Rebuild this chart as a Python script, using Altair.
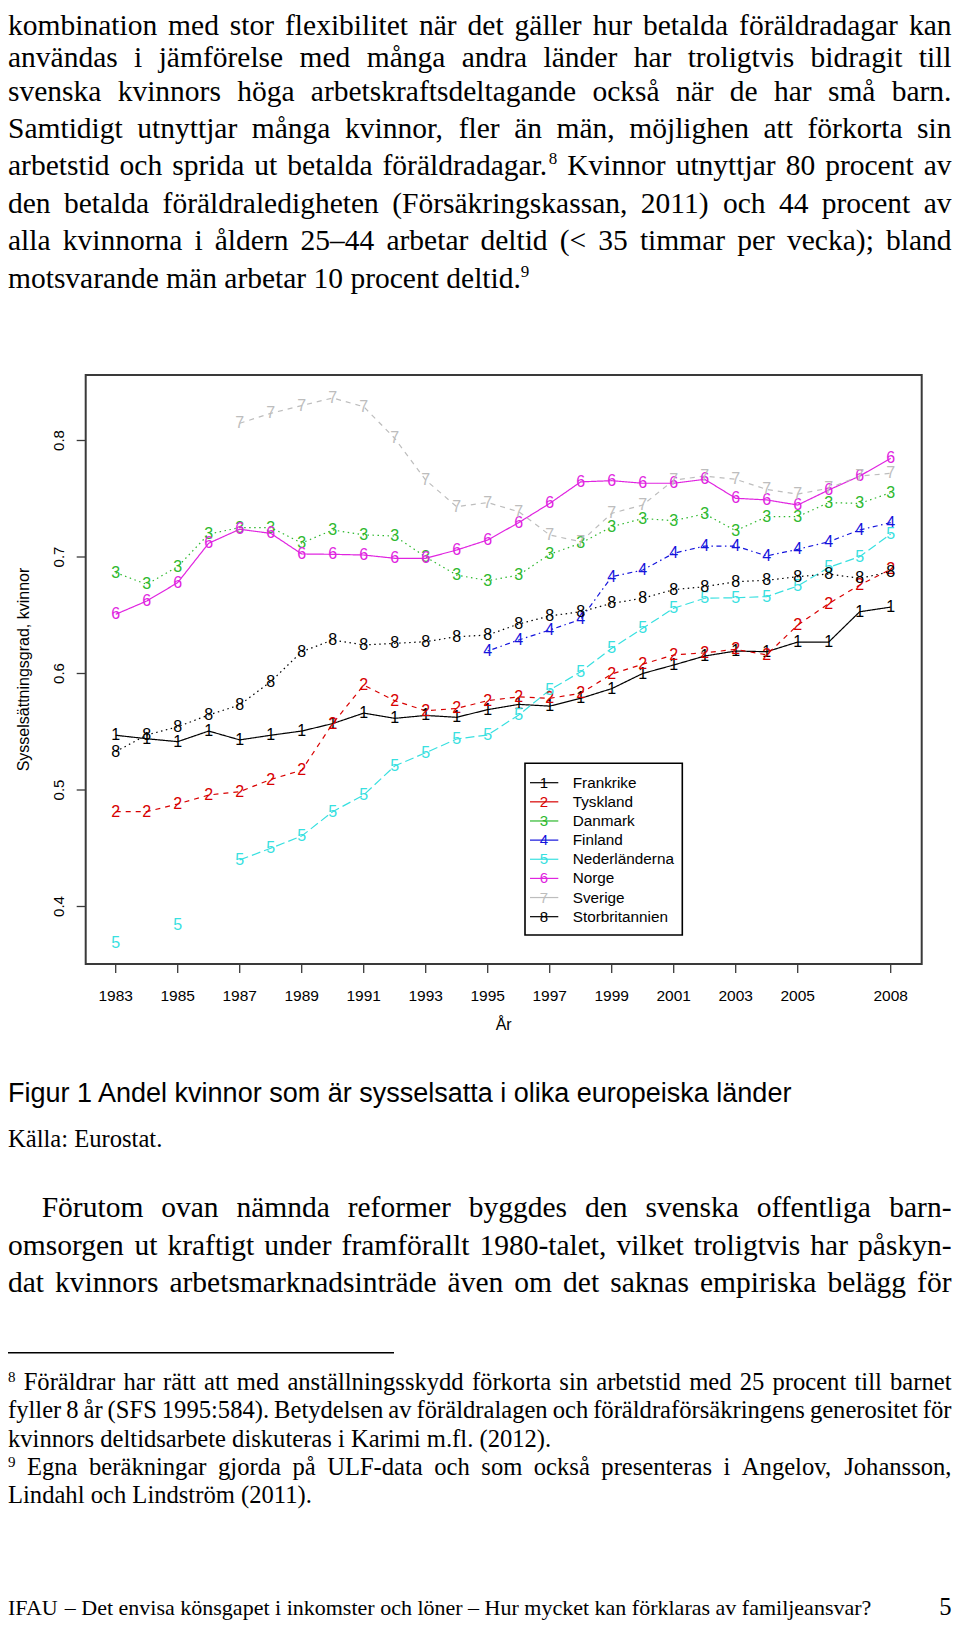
import altair as alt
import pandas as pd

# ---------------- chart data ----------------
years = list(range(1983, 2009))
countries = ["Frankrike", "Tyskland", "Danmark", "Finland", "Nederländerna",
             "Norge", "Sverige", "Storbritannien"]
markers = ["1", "2", "3", "4", "5", "6", "7", "8"]

frankrike = [0.547, 0.544, 0.5415, 0.5506, 0.543, 0.547, 0.5506, 0.557, 0.566, 0.5615,
             0.564, 0.5624, 0.569, 0.5735, 0.572, 0.5787, 0.587, 0.600, 0.6073, 0.615,
             0.6193, 0.6187, 0.627, 0.627, 0.653, 0.657]
tyskland = [0.4814, 0.4814, 0.488, 0.4957, 0.4986, 0.509, 0.517, 0.557, 0.590, 0.5767,
            0.568, 0.570, 0.5767, 0.580, 0.5787, 0.583, 0.5995, 0.608, 0.6159, 0.6178,
            0.6207, 0.616, 0.6416, 0.660, 0.676, 0.6894]
danmark = [0.6866, 0.6765, 0.6917, 0.7197, 0.7252, 0.7253, 0.7120, 0.7232, 0.719, 0.718,
           0.700, 0.6845, 0.6797, 0.6845, 0.7023, 0.7118, 0.726, 0.733, 0.7312, 0.737,
           0.7226, 0.7346, 0.7346, 0.7467, 0.746, 0.7552]
finland = [None] * 12 + [0.6193, 0.6288, 0.6373, 0.6465, 0.6831, 0.6888, 0.7032, 0.7094,
                         0.7094, 0.7009, 0.7066, 0.7131, 0.7232, 0.7295]
nederlanderna = [0.369, None, 0.384, None, 0.440, 0.450, 0.4605, 0.4814, 0.4957, 0.5206,
                 0.532, 0.5438, 0.5472, 0.5644, 0.5858, 0.6015, 0.6216, 0.6388, 0.656,
                 0.6646, 0.665, 0.666, 0.6751, 0.6911, 0.7003, 0.7197]
norge = [0.6508, 0.6622, 0.678, 0.7118, 0.7238, 0.7203, 0.7026, 0.7023, 0.7017, 0.6989,
         0.6989, 0.706, 0.7146, 0.7295, 0.746, 0.7645, 0.7655, 0.7633, 0.7633, 0.7667,
         0.7504, 0.749, 0.7446, 0.7575, 0.7695, 0.7847]
sverige = [None] * 4 + [0.8148, 0.8233, 0.830, 0.8365, 0.829, 0.8019, 0.766, 0.7432,
                        0.7467, 0.7389, 0.7189, 0.7131, 0.7375, 0.7446, 0.766, 0.7695,
                        0.7667, 0.758, 0.754, 0.759, 0.7695, 0.7718]
storbritannien = [0.5329, 0.5472, 0.5543, 0.5644, 0.573, 0.593, 0.6187, 0.6288, 0.6245,
                  0.6259, 0.6273, 0.6316, 0.633, 0.6425, 0.6494, 0.653, 0.6602, 0.6646,
                  0.672, 0.6745, 0.6788, 0.680, 0.6831, 0.6854, 0.6817, 0.6874]
series = [frankrike, tyskland, danmark, finland, nederlanderna, norge, sverige, storbritannien]

x_ticks = [1983, 1985, 1987, 1989, 1991, 1993, 1995, 1997, 1999, 2001, 2003, 2005, 2008]
y_ticks = [0.4, 0.5, 0.6, 0.7, 0.8]
y_tick_labels = ["0.4", "0.5", "0.6", "0.7", "0.8"]
x_title = "År"
y_title = "Sysselsättningsgrad, kvinnor"

# ---------------- page text ----------------
top_lines = [
    "kombination med stor flexibilitet när det gäller hur betalda föräldradagar kan",
    "användas i jämförelse med många andra länder har troligtvis bidragit till",
    "svenska kvinnors höga arbetskraftsdeltagande också när de har små barn.",
    "Samtidigt utnyttjar många kvinnor, fler än män, möjlighen att förkorta sin",
    "arbetstid och sprida ut betalda föräldradagar.^8 Kvinnor utnyttjar 80 procent av",
    "den betalda föräldraledigheten (Försäkringskassan, 2011) och 44 procent av",
    "alla kvinnorna i åldern 25–44 arbetar deltid (< 35 timmar per vecka); bland",
    "motsvarande män arbetar 10 procent deltid.^9",
]
caption = "Figur 1 Andel kvinnor som är sysselsatta i olika europeiska länder"
source = "Källa: Eurostat."
para2_lines = [
    "Förutom ovan nämnda reformer byggdes den svenska offentliga barn-",
    "omsorgen ut kraftigt under framförallt 1980-talet, vilket troligtvis har påskyn-",
    "dat kvinnors arbetsmarknadsinträde även om det saknas empiriska belägg för",
]
footnote_lines = [
    "^8 Föräldrar har rätt att med anställningsskydd förkorta sin arbetstid med 25 procent till barnet",
    "fyller 8 år (SFS 1995:584). Betydelsen av föräldralagen och föräldraförsäkringens generositet för",
    "kvinnors deltidsarbete diskuteras i Karimi m.fl. (2012).",
    "^9 Egna beräkningar gjorda på ULF-data och som också presenteras i Angelov, Johansson,",
    "Lindahl och Lindström (2011).",
]
footer_text = "IFAU – Det envisa könsgapet i inkomster och löner – Hur mycket kan förklaras av familjeansvar?"
page_number = "5"

# ---------------- styles / layout ----------------
colors = ["#000000", "#D80000", "#2DB82D", "#1414DC", "#38E0E0", "#E024E0", "#BDBDBD", "#000000"]
dashes = [[1, 0], [5, 5], [1.5, 3.5], [1.5, 3.5, 5, 3.5], [9, 4], [1, 0], [5, 5], [1.5, 3.5]]
W, H = 944, 1612
SANS = "Liberation Sans"
SERIF = "Liberation Serif"

_upper = dict(zip("ABCDEFGHIJKLMNOPQRSTUVWXYZ",
                  [722, 667, 667, 722, 611, 556, 722, 722, 333, 389, 722, 611, 889, 722, 722,
                   556, 722, 667, 556, 611, 722, 722, 944, 722, 722, 611]))
_lower = dict(zip("abcdefghijklmnopqrstuvwxyz",
                  [444, 500, 444, 500, 444, 333, 500, 500, 278, 278, 500, 278, 778, 500, 500,
                   500, 500, 333, 389, 278, 500, 500, 722, 500, 500, 444]))
TIMES = {" ": 250, "!": 333, "(": 333, ")": 333, ",": 250, "-": 333, ".": 250, "/": 278,
         ":": 278, ";": 278, "<": 564, "?": 444, "–": 500, "ä": 444, "å": 444, "ö": 500,
         "é": 444, "Ä": 722, "Å": 722, "Ö": 722}
TIMES.update(_upper)
TIMES.update(_lower)
for d in "0123456789":
    TIMES[d] = 500


def tw(s, size):
    return sum(TIMES.get(c, 500) for c in s) / 1000.0 * size


def layout(text, left, right, y, size, justify, sup_size, sup_rise):
    parts = []
    for tok in text.split(" "):
        base, sup = (tok.split("^") + [""])[:2] if "^" in tok else (tok, "")
        parts.append((base, sup, tw(base, size) + tw(sup, sup_size)))
    total = sum(p[2] for p in parts)
    if justify and len(parts) > 1:
        gap = (right - left - total) / (len(parts) - 1)
    else:
        gap = tw(" ", size)
    out, x = [], left
    for base, sup, w in parts:
        if base:
            out.append({"t": base, "x": x, "y": y, "s": size})
        if sup:
            out.append({"t": sup, "x": x + tw(base, size), "y": y - sup_rise, "s": sup_size})
        x += w + gap
    return out


R_EDGE = 943.5
BODY, FOOT, FOOTER = 29.5, 24.6, 22.0
FOOTER_Y = 1606.5
words = []
top_base = [26.5, 58.5, 93.0, 129.5, 166.7, 204.55, 242.4, 280.25]
for i, line in enumerate(top_lines):
    words += layout(line, 0, R_EDGE, top_base[i], BODY, i < len(top_lines) - 1, 17, 11)
for i, line in enumerate(para2_lines):
    words += layout(line, 33.7 if i == 0 else 0, R_EDGE, 1208.7 + 37.85 * i, BODY, True, 17, 11)
foot_just = [True, True, False, True, False]
for i, line in enumerate(footnote_lines):
    words += layout(line, 0, R_EDGE, 1382 + 28.3 * i, FOOT, foot_just[i], 15, 8.3)
words += [{"t": source, "x": 0, "y": 1139.3, "s": FOOT}]
words += layout(footer_text, 0, R_EDGE, FOOTER_Y, FOOTER, False, 15, 8)
words_df = pd.DataFrame(words)

# ---------------- chart tables ----------------
rows = []
for k, (name, vals) in enumerate(zip(countries, series)):
    seg = 0
    for yr, v in zip(years, vals):
        if v is None:
            seg += 1
            continue
        rows.append({"year": yr, "value": v, "country": name, "digit": markers[k],
                     "seg": f"{name}-{seg}"})
df = pd.DataFrame(rows)

xs = alt.Scale(domain=[1982, 2009], range=[76.7, 913.7], nice=False, zero=False)
ys = alt.Scale(domain=[0.35, 0.86], range=[956.75, 362.6], nice=False, zero=False)
cs = alt.Scale(domain=countries, range=colors)
ds = alt.Scale(domain=countries, range=dashes)

X = alt.X("year:Q", scale=xs, axis=None)
Y = alt.Y("value:Q", scale=ys, axis=None)
C = alt.Color("country:N", scale=cs, legend=None)

lines = alt.Chart(df).mark_line(strokeWidth=1.2).encode(
    x=X, y=Y, color=C,
    strokeDash=alt.StrokeDash("country:N", scale=ds, legend=None),
    detail="seg:N", order="year:Q")
points = alt.Chart(df).mark_text(font=SANS, fontSize=16, baseline="middle", align="center").encode(
    x=X, y=Y, color=C, text="digit:N")

box = alt.Chart(pd.DataFrame({"a": [0]})).mark_rect(filled=False, stroke="#3a3a3a", strokeWidth=2).encode(
    x=alt.value(77.7), x2=alt.value(913.7), y=alt.value(367), y2=alt.value(956))

xt = pd.DataFrame({"year": x_ticks, "lab": [str(v) for v in x_ticks]})
yt = pd.DataFrame({"value": y_ticks, "lab": y_tick_labels})
x_tick_rules = alt.Chart(xt).mark_rule(color="#3a3a3a", strokeWidth=1.3).encode(
    x=X, y=alt.value(956), y2=alt.value(965))
x_tick_text = alt.Chart(xt).mark_text(font=SANS, fontSize=15.5, baseline="alphabetic", align="center").encode(
    x=X, y=alt.value(992.7), text="lab:N")
y_tick_rules = alt.Chart(yt).mark_rule(color="#3a3a3a", strokeWidth=1.3).encode(
    y=Y, x=alt.value(68.7), x2=alt.value(77.7))
y_tick_text = alt.Chart(yt).mark_text(font=SANS, fontSize=15, baseline="alphabetic", align="center", angle=270).encode(
    y=Y, x=alt.value(56), text="lab:N")
titles = alt.Chart(pd.DataFrame({"t": [x_title]})).mark_text(
    font=SANS, fontSize=16, baseline="alphabetic", align="center").encode(
    x=alt.value(495.7), y=alt.value(1022), text="t:N")
ytitle = alt.Chart(pd.DataFrame({"t": [y_title]})).mark_text(
    font=SANS, fontSize=16, baseline="alphabetic", align="center", angle=270).encode(
    x=alt.value(21.3), y=alt.value(661.5), text="t:N")

# legend
leg = pd.DataFrame({"country": countries, "digit": markers,
                    "ly": [774.7 + 19.14 * i for i in range(len(countries))]})
LY = alt.Y("ly:Q", scale=None)
leg_box = alt.Chart(pd.DataFrame({"a": [0]})).mark_rect(fill="white", stroke="black", strokeWidth=1.6).encode(
    x=alt.value(517), x2=alt.value(674.3), y=alt.value(755.3), y2=alt.value(927))
leg_lines = alt.Chart(leg).mark_rule(strokeWidth=1.2).encode(
    x=alt.value(522), x2=alt.value(550.3), y=LY, color=C)
leg_digits = alt.Chart(leg).mark_text(font=SANS, fontSize=15, baseline="middle", align="center").encode(
    x=alt.value(536), y=LY, color=C, text="digit:N")
leg_labels = alt.Chart(leg).mark_text(font=SANS, fontSize=15.3, baseline="middle", align="left", color="black").encode(
    x=alt.value(564.7), y=LY, text="country:N")

# page text
body = alt.Chart(words_df).mark_text(font=SERIF, baseline="alphabetic", align="left", color="black").encode(
    x=alt.X("x:Q", scale=None), y=alt.Y("y:Q", scale=None), text="t:N", size=alt.Size("s:Q", scale=None))
cap = alt.Chart(pd.DataFrame({"t": [caption]})).mark_text(
    font=SANS, fontSize=27, baseline="alphabetic", align="left", color="black").encode(
    x=alt.value(0), y=alt.value(1093.7), text="t:N")
pnum = alt.Chart(pd.DataFrame({"t": [page_number]})).mark_text(
    font=SERIF, fontSize=FOOT, baseline="alphabetic", align="right", color="black").encode(
    x=alt.value(R_EDGE), y=alt.value(FOOTER_Y), text="t:N")
sep = alt.Chart(pd.DataFrame({"a": [0]})).mark_rule(color="black", strokeWidth=1.4).encode(
    x=alt.value(0), x2=alt.value(386), y=alt.value(1344.7))

chart = alt.layer(
    body, cap, pnum, sep,
    box, x_tick_rules, x_tick_text, y_tick_rules, y_tick_text, titles, ytitle,
    lines, points,
    leg_box, leg_lines, leg_digits, leg_labels,
).properties(
    width=W, height=H, padding=0, background="white",
    autosize=alt.AutoSizeParams(type="none"),
).configure_view(stroke=None)

chart.save("out.html", embed_options={"renderer": "svg", "actions": False})
